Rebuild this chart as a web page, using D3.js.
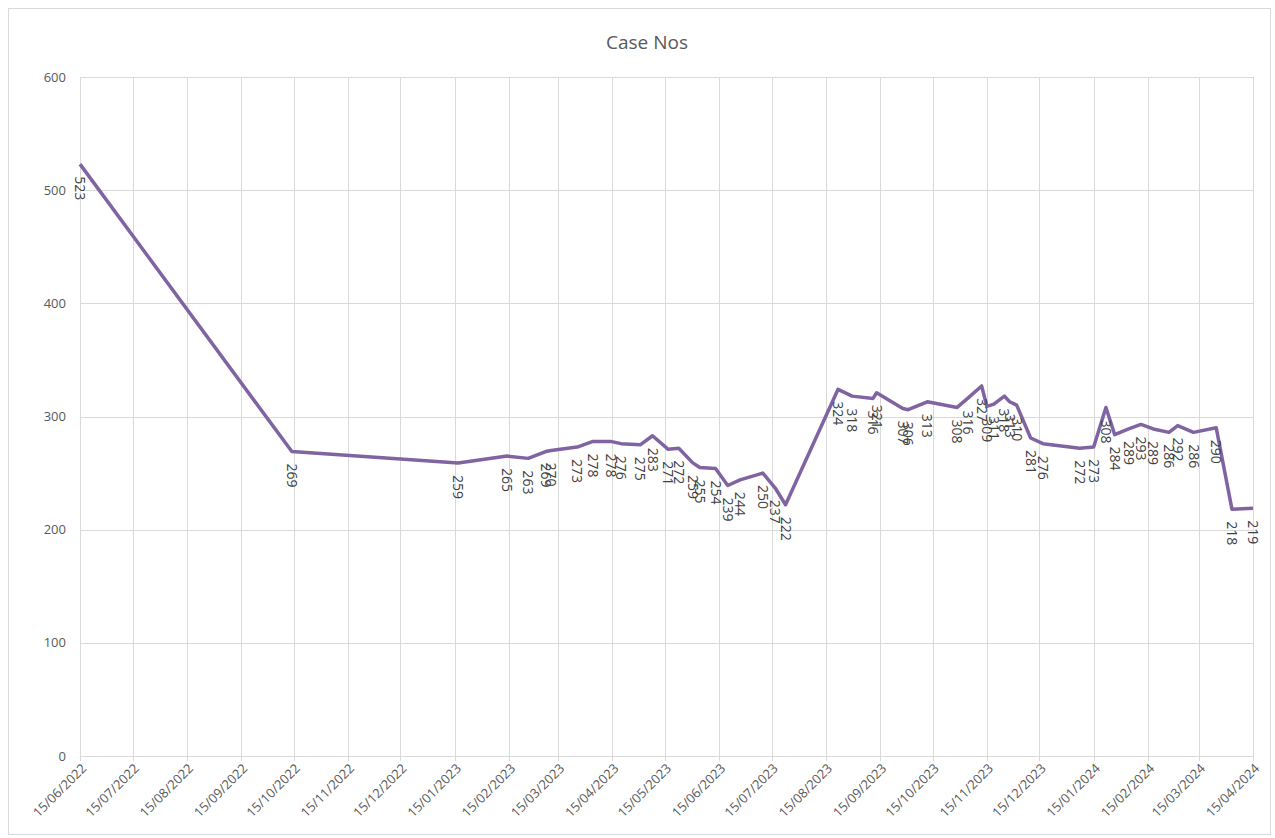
<!DOCTYPE html>
<html lang="en">
<head>
  <meta charset="UTF-8">
  <title>Case Nos</title>
  <script src="https://d3js.org/d3.v7.min.js"></script>
  <style>
    body { margin: 0; background: #fff; }
    svg { display: block; font-family: "Open Sans", "Liberation Sans", sans-serif; }
    .grid line { stroke: #d9d9d9; stroke-width: 1px; }
    .tick-label { fill: #595959; font-size: 13px; }
    .data-label { fill: #404040; font-size: 14px; }
  </style>
</head>
<body>
<svg width="1275" height="838"></svg>

<script>
  // data
  const dates = [
    "2022-06-15", "2022-10-14", "2023-01-17", "2023-02-14", "2023-02-26",
    "2023-03-08", "2023-03-11", "2023-03-26", "2023-04-04", "2023-04-14",
    "2023-04-20", "2023-05-01", "2023-05-08", "2023-05-17", "2023-05-23",
    "2023-05-31", "2023-06-04", "2023-06-13", "2023-06-20", "2023-06-27",
    "2023-07-10", "2023-07-17", "2023-07-23", "2023-08-22", "2023-08-30",
    "2023-09-11", "2023-09-13", "2023-09-28", "2023-10-01", "2023-10-12",
    "2023-10-29", "2023-11-04", "2023-11-12", "2023-11-15", "2023-11-19",
    "2023-11-25", "2023-11-28", "2023-12-02", "2023-12-10", "2023-12-17",
    "2024-01-07", "2024-01-15", "2024-01-22", "2024-01-27", "2024-02-04",
    "2024-02-11", "2024-02-18", "2024-02-27", "2024-03-03", "2024-03-12",
    "2024-03-25", "2024-04-03", "2024-04-15"
  ];
  const caseNos = [
    523, 269, 259, 265, 263,
    269, 270, 273, 278, 278,
    276, 275, 283, 271, 272,
    259, 255, 254, 239, 244,
    250, 237, 222, 324, 318,
    316, 321, 307, 306, 313,
    308, 316, 327, 309, 311,
    318, 313, 310, 281, 276,
    272, 273, 308, 284, 289,
    293, 289, 286, 292, 286,
    290, 218, 219
  ];
  const yTicks = [0, 100, 200, 300, 400, 500, 600];
  const title = "Case Nos";

  const parse = d3.timeParse("%Y-%m-%d");
  const fmt = d3.timeFormat("%d/%m/%Y");
  const data = dates.map((d, i) => ({ date: parse(d), value: caseNos[i] }));

  // month ticks on the 15th
  const xTicks = d3.timeMonth.range(parse("2022-06-01"), parse("2024-04-02"))
    .map(m => new Date(m.getFullYear(), m.getMonth(), 15));

  const svg = d3.select("svg");
  const plotLeft = 80, plotRight = 1253, plotTop = 77, plotBottom = 756;

  // chart border
  svg.append("rect")
    .attr("x", 8.5).attr("y", 8.5)
    .attr("width", 1262).attr("height", 826)
    .attr("fill", "none")
    .attr("stroke", "#d9d9d9");

  const x = d3.scaleTime()
    .domain([parse("2022-06-15"), parse("2024-04-15")])
    .range([plotLeft, plotRight]);

  const y = d3.scaleLinear()
    .domain([0, 600])
    .range([plotBottom, plotTop]);

  // gridlines
  const grid = svg.append("g").attr("class", "grid");
  grid.selectAll("line.h")
    .data(yTicks)
    .join("line")
    .attr("class", "h")
    .attr("x1", plotLeft).attr("x2", plotRight)
    .attr("y1", d => Math.round(y(d)) + 0.5)
    .attr("y2", d => Math.round(y(d)) + 0.5);
  grid.selectAll("line.v")
    .data(xTicks)
    .join("line")
    .attr("class", "v")
    .attr("x1", d => Math.round(x(d)) + 0.5)
    .attr("x2", d => Math.round(x(d)) + 0.5)
    .attr("y1", plotTop).attr("y2", plotBottom + 5);

  // y tick labels
  svg.selectAll("text.ylab")
    .data(yTicks)
    .join("text")
    .attr("class", "tick-label ylab")
    .attr("x", 66)
    .attr("y", d => y(d))
    .attr("dy", "0.35em")
    .attr("text-anchor", "end")
    .text(d => d);

  // x tick labels, rotated
  svg.selectAll("text.xlab")
    .data(xTicks)
    .join("text")
    .attr("class", "tick-label xlab")
    .attr("transform", d => `translate(${x(d) + 4},${plotBottom + 10}) rotate(-45)`)
    .attr("text-anchor", "end")
    .attr("dy", "0.35em")
    .text(d => fmt(d));

  // title
  svg.append("text")
    .attr("x", 647)
    .attr("y", 49)
    .attr("text-anchor", "middle")
    .attr("fill", "#595959")
    .attr("font-size", "19px")
    .text(title);

  // line
  const line = d3.line()
    .x(d => x(d.date))
    .y(d => y(d.value));

  svg.append("path")
    .datum(data)
    .attr("fill", "none")
    .attr("stroke", "#8064a2")
    .attr("stroke-width", 3.5)
    .attr("stroke-linejoin", "round")
    .attr("d", line);

  // data labels, rotated to read downwards
  svg.selectAll("text.dlab")
    .data(data)
    .join("text")
    .attr("class", "data-label dlab")
    .attr("transform", d => `translate(${x(d.date)},${y(d.value) + 12}) rotate(90)`)
    .attr("dy", "0.35em")
    .text(d => d.value);
</script>
</body>
</html>
